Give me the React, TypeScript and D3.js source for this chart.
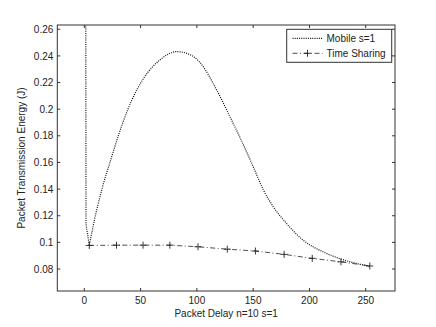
import React, { useRef, useEffect } from 'react';
import * as d3 from 'd3';

// Mobile s=1 curve
const mobileX = [1, 1.5, 4.4, 9.5, 15.4, 24.3, 30.2, 34.6, 42.1, 52.4, 67.2, 82, 93.8, 102.8, 117.6, 129.4, 139.8, 150.1, 159, 167.9, 179.7, 194.5, 212.3, 227, 253.6];
const mobileY = [0.5, 0.114, 0.0978, 0.1191, 0.1392, 0.1642, 0.18, 0.1908, 0.2066, 0.2228, 0.237, 0.2432, 0.241, 0.235, 0.2144, 0.1943, 0.176, 0.1567, 0.1395, 0.1267, 0.1141, 0.1016, 0.0928, 0.0878, 0.082];

// Time Sharing curve
const shareX = [4.4, 28.6, 52.2, 76, 101, 127, 152, 177.5, 202.5, 228, 253.6];
const shareY = [0.0977, 0.0979, 0.0979, 0.0979, 0.0967, 0.0949, 0.0935, 0.091, 0.088, 0.0854, 0.0823];

const xTicks = [0, 50, 100, 150, 200, 250];
const yTicks = [0.08, 0.1, 0.12, 0.14, 0.16, 0.18, 0.2, 0.22, 0.24, 0.26];
const legendLabels = ['Mobile s=1', 'Time Sharing'];

const width = 436;
const height = 327;
const margin = { top: 25, right: 41, bottom: 36, left: 57.3 };
const font = '"Liberation Sans", Arial, sans-serif';

const App = () => {
  const svgRef = useRef<SVGSVGElement>(null);

  useEffect(() => {
    const svg = d3.select(svgRef.current);
    svg.selectAll('*').remove();

    const x = d3.scaleLinear().domain([-24, 276]).range([margin.left, width - margin.right]);
    const y = d3.scaleLinear().domain([0.0635, 0.2632]).range([height - margin.bottom, margin.top]);
    const [x0, x1] = x.range();
    const [y0, y1] = y.range();

    svg.append('rect').attr('width', width).attr('height', height).attr('fill', '#fff');

    svg.append('clipPath').attr('id', 'plot-clip')
      .append('rect').attr('x', x0).attr('y', y1).attr('width', x1 - x0).attr('height', y0 - y1);

    const plot = svg.append('g').attr('clip-path', 'url(#plot-clip)');

    const mobile = mobileX.map((v, i) => [v, mobileY[i]] as [number, number]);
    const share = shareX.map((v, i) => [v, shareY[i]] as [number, number]);

    const lineLin = d3.line<[number, number]>().x(d => x(d[0])).y(d => y(d[1]));
    const lineSmooth = d3.line<[number, number]>().x(d => x(d[0])).y(d => y(d[1])).curve(d3.curveMonotoneX);

    // sharp V near the origin, smooth bell afterwards
    const mobilePath = (lineLin(mobile.slice(0, 4)) || '') + (lineSmooth(mobile.slice(3)) || '').replace(/^M/, 'L');
    plot.append('path')
      .attr('d', mobilePath)
      .attr('fill', 'none').attr('stroke', '#111').attr('stroke-width', 1.2)
      .attr('stroke-dasharray', '1,1.2');

    plot.append('path')
      .attr('d', lineLin(share))
      .attr('fill', 'none').attr('stroke', '#222').attr('stroke-width', 0.8)
      .attr('stroke-dasharray', '5,2.5,1,2.5');

    const plus = (g: any, cx: number, cy: number) => {
      g.append('path')
        .attr('d', `M${cx - 3.5},${cy}H${cx + 3.5}M${cx},${cy - 3.5}V${cy + 3.5}`)
        .attr('stroke', '#222').attr('stroke-width', 0.9).attr('fill', 'none');
    };
    share.forEach(d => plus(plot, x(d[0]), y(d[1])));

    // axes box and ticks
    const axisColor = '#333';
    const ax = svg.append('g');
    ax.append('rect').attr('x', x0).attr('y', y1).attr('width', x1 - x0).attr('height', y0 - y1)
      .attr('fill', 'none').attr('stroke', axisColor).attr('stroke-width', 1);

    xTicks.forEach(t => {
      const px = x(t);
      ax.append('line').attr('x1', px).attr('x2', px).attr('y1', y0).attr('y2', y0 - 3).attr('stroke', axisColor);
      ax.append('line').attr('x1', px).attr('x2', px).attr('y1', y1).attr('y2', y1 + 3).attr('stroke', axisColor);
      ax.append('text').attr('x', px).attr('y', y0 + 13)
        .attr('text-anchor', 'middle').attr('font-family', font).attr('font-size', 10).attr('fill', '#222')
        .text(d3.format('d')(t));
    });

    yTicks.forEach(t => {
      const py = y(t);
      ax.append('line').attr('x1', x0).attr('x2', x0 + 3).attr('y1', py).attr('y2', py).attr('stroke', axisColor);
      ax.append('line').attr('x1', x1).attr('x2', x1 - 3).attr('y1', py).attr('y2', py).attr('stroke', axisColor);
      ax.append('text').attr('x', x0 - 4).attr('y', py + 3.6)
        .attr('text-anchor', 'end').attr('font-family', font).attr('font-size', 10).attr('fill', '#222')
        .text(d3.format('~g')(+t.toFixed(2)));
    });

    ax.append('text').attr('x', (x0 + x1) / 2).attr('y', 317)
      .attr('text-anchor', 'middle').attr('font-family', font).attr('font-size', 10).attr('fill', '#222')
      .text('Packet Delay n=10 s=1');

    ax.append('text').attr('transform', `translate(24.5,${(y0 + y1) / 2}) rotate(-90)`)
      .attr('text-anchor', 'middle').attr('font-family', font).attr('font-size', 10).attr('fill', '#222')
      .text('Packet Transmission Energy (J)');

    // legend
    const lg = svg.append('g');
    lg.append('rect').attr('x', 286.7).attr('y', 29.3).attr('width', 105).attr('height', 33)
      .attr('fill', '#fff').attr('stroke', axisColor).attr('stroke-width', 1);
    lg.append('line').attr('x1', 292.5).attr('x2', 322.5).attr('y1', 38.3).attr('y2', 38.3)
      .attr('stroke', '#111').attr('stroke-width', 1.2).attr('stroke-dasharray', '1,1.2');
    lg.append('line').attr('x1', 292.5).attr('x2', 322.5).attr('y1', 53.3).attr('y2', 53.3)
      .attr('stroke', '#222').attr('stroke-width', 0.8).attr('stroke-dasharray', '5,2.5,1,2.5');
    plus(lg, 307.5, 53.3);
    legendLabels.forEach((l, i) => {
      lg.append('text').attr('x', 326.5).attr('y', 42 + i * 15)
        .attr('font-family', font).attr('font-size', 10).attr('fill', '#222').text(l);
    });
  }, []);

  return (
    <svg ref={svgRef} width={width} height={height} style={{ position: 'absolute', left: 0, top: 0 }}></svg>
  );
};

export default App;
